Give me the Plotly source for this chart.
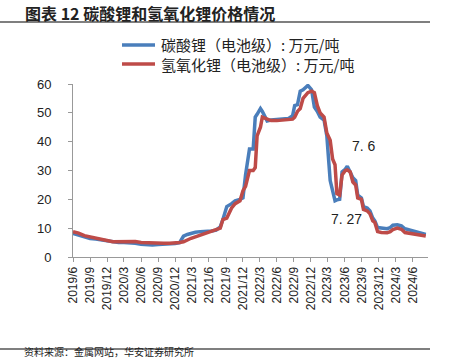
import plotly.graph_objects as go

dates = ["2019-06-01","2019-07-01","2019-08-01","2019-09-01","2019-10-01","2019-11-01","2019-12-01",
         "2020-01-01","2020-02-01","2020-03-01","2020-04-01","2020-05-01","2020-06-01","2020-07-01",
         "2020-08-01","2020-09-01","2020-10-01","2020-11-01","2020-12-01","2020-12-25",
         "2021-01-15","2021-02-05","2021-02-25","2021-03-20","2021-04-15","2021-05-15","2021-06-15",
         "2021-07-10","2021-08-01","2021-08-15","2021-09-05","2021-10-01","2021-10-20","2021-11-15",
         "2021-12-01","2021-12-15","2022-01-05","2022-01-25","2022-02-05","2022-02-15","2022-03-05",
         "2022-03-15","2022-04-10","2022-05-01","2022-06-01","2022-07-01","2022-08-01","2022-08-25",
         "2022-09-05","2022-09-20","2022-10-05","2022-10-20","2022-11-15","2022-12-05","2022-12-20",
         "2023-01-05","2023-01-20","2023-02-10","2023-02-25","2023-03-15","2023-03-28","2023-04-10",
         "2023-04-20","2023-05-05","2023-05-18","2023-06-05","2023-06-15","2023-07-01","2023-07-15",
         "2023-07-30","2023-08-10","2023-08-30","2023-09-10","2023-09-30","2023-10-15","2023-10-30",
         "2023-11-10","2023-11-25","2023-12-15","2024-01-15","2024-02-01","2024-02-15","2024-03-10",
         "2024-04-01","2024-04-20","2024-05-10","2024-06-10","2024-07-01","2024-08-10"]

li2co3 = [8.2,7.6,6.8,6.4,6.2,5.9,5.4,
          5.1,5.0,5.0,5.0,4.8,4.4,4.2,
          4.2,4.3,4.4,4.5,4.7,5.0,
          7.2,7.8,8.3,8.6,8.8,8.8,9.0,
          9.3,10.5,13.0,17.5,18.5,19.5,20.0,
          20.5,28.5,37.5,37.5,48.5,49.5,51.5,
          50.5,47.2,47.5,47.7,47.8,48.0,49.0,
          52.5,52.8,57.5,58.0,59.5,58.0,52.0,
          50.5,48.5,47.5,42.0,26.5,23.0,19.5,
          19.8,20.0,29.5,30.5,31.5,29.5,27.5,
          26.5,21.5,20.5,17.5,17.0,16.0,13.5,
          12.5,10.2,10.0,9.8,10.2,11.0,11.2,
          10.8,9.8,9.5,9.0,8.6,7.8]

lioh = [8.8,8.3,7.4,6.9,6.6,6.2,5.7,
        5.3,5.3,5.4,5.5,5.4,5.0,4.9,
        4.8,4.8,4.8,4.8,4.8,5.0,
        5.3,6.0,6.5,7.0,7.6,8.5,9.0,
        9.5,10.0,13.0,13.5,17.0,18.5,19.5,
        23.0,24.5,30.0,30.0,31.0,42.0,45.0,
        48.5,47.8,47.3,47.3,47.5,47.5,47.8,
        48.5,50.5,51.5,55.0,57.0,57.5,57.0,
        52.5,50.0,48.5,43.0,40.5,34.0,32.0,
        22.0,21.5,28.5,30.0,30.2,29.5,26.0,
        25.0,20.5,20.0,16.5,16.0,15.0,12.5,
        12.0,8.8,8.5,8.4,8.8,9.5,10.0,
        9.6,8.5,8.3,8.2,7.8,7.3]

tick_dates = ["2019-06-01","2019-09-01","2019-12-01","2020-03-01","2020-06-01","2020-09-01",
              "2020-12-01","2021-03-01","2021-06-01","2021-09-01","2021-12-01","2022-03-01",
              "2022-06-01","2022-09-01","2022-12-01","2023-03-01","2023-06-01","2023-09-01",
              "2023-12-01","2024-03-01","2024-06-01"]
tick_labels = ["2019/6","2019/9","2019/12","2020/3","2020/6","2020/9","2020/12","2021/3",
               "2021/6","2021/9","2021/12","2022/3","2022/6","2022/9","2022/12","2023/3",
               "2023/6","2023/9","2023/12","2024/3","2024/6"]

names = ["碳酸锂（电池级）: 万元/吨", "氢氧化锂（电池级）: 万元/吨"]
colors = ["#4A7EBB", "#BE4B48"]

CJK = "Noto Sans CJK SC"

fig = go.Figure()
fig.add_trace(go.Scatter(x=dates, y=li2co3, mode="lines", name=names[0],
                         line=dict(color=colors[0], width=3.5), showlegend=False))
fig.add_trace(go.Scatter(x=dates, y=lioh, mode="lines", name=names[1],
                         line=dict(color=colors[1], width=3.5), showlegend=False))

# plot area in page pixels (body margin removed below)
L, R, T, B = 73, 428, 84, 257
W, H = 454, 361
def px(x):
    return (x - L) / (R - L)
def py(y):
    return (B - y) / (B - T)

fig.update_layout(
    width=W, height=H,
    margin=dict(l=L, r=W - R, t=T, b=H - B, autoexpand=False),
    paper_bgcolor="white", plot_bgcolor="white",
    showlegend=False,
    font=dict(family="Arial", color="#222"),
)

fig.update_xaxes(
    type="date", range=["2019-06-01", "2024-08-22"],
    tickvals=tick_dates, ticktext=tick_labels, tickangle=-90,
    tickfont=dict(family="Arial", size=12, color="#222"),
    showgrid=False, zeroline=False,
    showline=True, linecolor="#999", linewidth=1,
    ticks="outside", ticklen=4, tickcolor="#999",
)
fig.update_yaxes(
    range=[0, 60], tickvals=[0,10,20,30,40,50,60],
    tickfont=dict(family="Arial", size=13, color="#222"),
    showgrid=False, zeroline=False,
    showline=True, linecolor="#999", linewidth=1,
    ticks="outside", ticklen=4, tickcolor="#999",
    ticklabelstandoff=14,
)

# manual legend
for i, (nm, c) in enumerate(zip(names, colors)):
    yy = 45 + i * 19
    fig.add_shape(type="line", xref="paper", yref="paper", x0=px(122), x1=px(155),
                  y0=py(yy), y1=py(yy), line=dict(color=c, width=3.5))
    fig.add_annotation(text=nm, xref="paper", yref="paper", x=px(159), y=py(yy),
                       xanchor="left", yanchor="middle", showarrow=False,
                       font=dict(family=CJK, size=15, color="#222"))

# title
fig.add_annotation(text="<b>图表 12 碳酸锂和氢氧化锂价格情况</b>", xref="paper", yref="paper",
                   x=px(23), y=py(13), xanchor="left", yanchor="middle", showarrow=False,
                   font=dict(family=CJK, size=16, color="#222"))
# value annotations
fig.add_annotation(text="7. 6", xref="paper", yref="paper", x=px(364), y=py(146),
                   xanchor="center", yanchor="middle", showarrow=False,
                   font=dict(family="Arial", size=14, color="#222"))
fig.add_annotation(text="7. 27", xref="paper", yref="paper", x=px(346), y=py(219),
                   xanchor="center", yanchor="middle", showarrow=False,
                   font=dict(family="Arial", size=14, color="#222"))
# source
fig.add_annotation(text="资料来源：金属网站，华安证券研究所", xref="paper", yref="paper",
                   x=px(22), y=py(361), xanchor="left", yanchor="bottom", showarrow=False,
                   font=dict(family=CJK, size=10, color="#222"))

# separator lines
fig.add_shape(type="line", xref="paper", yref="paper", x0=px(0), x1=px(430), y0=py(22), y1=py(22),
              line=dict(color="#555", width=1.5))
fig.add_shape(type="line", xref="paper", yref="paper", x0=px(0), x1=px(430), y0=py(349), y1=py(349),
              line=dict(color="#555", width=1.5))

fig.write_html("out.html", config={"displayModeBar": False, "staticPlot": True},
               post_script="document.body.style.margin='0';document.body.style.overflow='hidden';")
